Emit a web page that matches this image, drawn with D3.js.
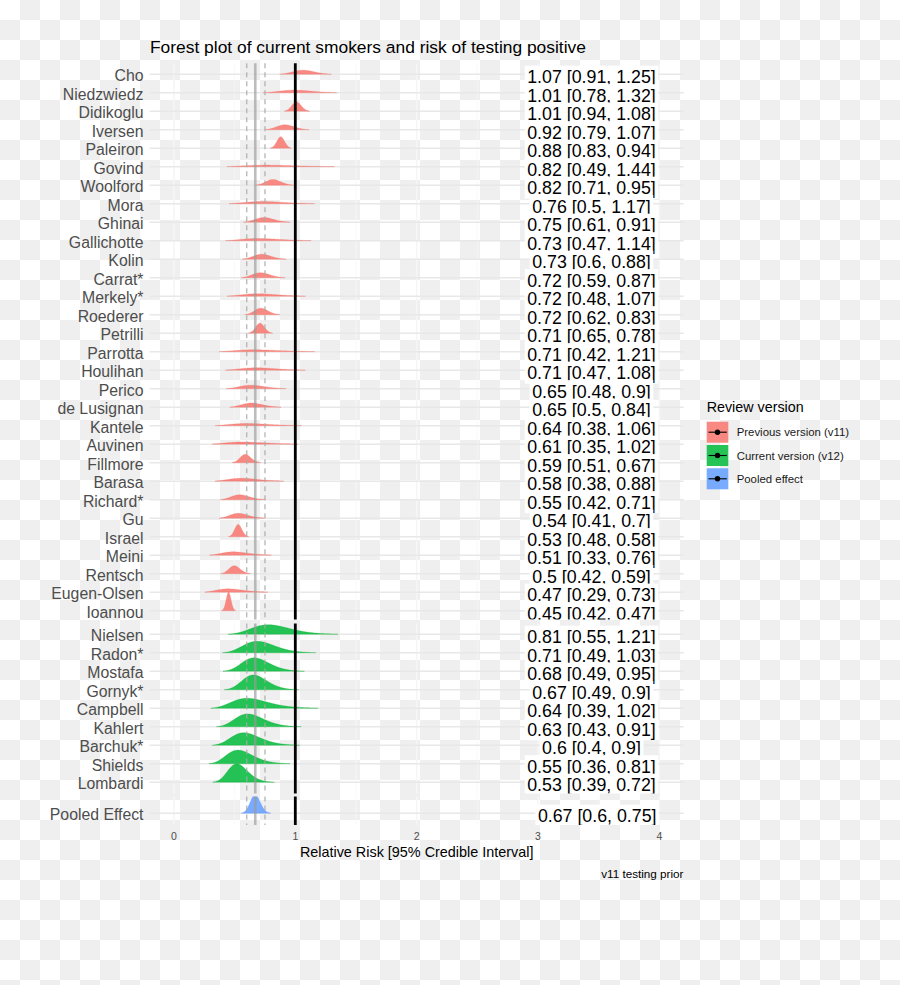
<!DOCTYPE html>
<html>
<head>
<meta charset="utf-8">
<script src="https://cdn.jsdelivr.net/npm/d3@7"></script>
<style>
  html, body { margin: 0; padding: 0; background: #fff; }
  svg { display: block; }
  text { font-family: "Liberation Sans", Arial, Helvetica, sans-serif; }
</style>
</head>
<body>
<script>
// ---------------- DATA ----------------
const v11Studies = ["Cho","Niedzwiedz","Didikoglu","Iversen","Paleiron","Govind","Woolford","Mora","Ghinai","Gallichotte","Kolin","Carrat*","Merkely*","Roederer","Petrilli","Parrotta","Houlihan","Perico","de Lusignan","Kantele","Auvinen","Fillmore","Barasa","Richard*","Gu","Israel","Meini","Rentsch","Eugen-Olsen","Ioannou"];
const v11Median = [1.07,1.01,1.01,0.92,0.88,0.82,0.82,0.76,0.75,0.73,0.73,0.72,0.72,0.72,0.71,0.71,0.71,0.65,0.65,0.64,0.61,0.59,0.58,0.55,0.54,0.53,0.51,0.5,0.47,0.45];
const v11Lower  = [0.91,0.78,0.94,0.79,0.83,0.49,0.71,0.5,0.61,0.47,0.6,0.59,0.48,0.62,0.65,0.42,0.47,0.48,0.5,0.38,0.35,0.51,0.38,0.42,0.41,0.48,0.33,0.42,0.29,0.42];
const v11Upper  = [1.25,1.32,1.08,1.07,0.94,1.44,0.95,1.17,0.91,1.14,0.88,0.87,1.07,0.83,0.78,1.21,1.08,0.9,0.84,1.06,1.02,0.67,0.88,0.71,0.7,0.58,0.76,0.59,0.73,0.47];

const v12Studies = ["Nielsen","Radon*","Mostafa","Gornyk*","Campbell","Kahlert","Barchuk*","Shields","Lombardi"];
const v12Median = [0.81,0.71,0.68,0.67,0.64,0.63,0.6,0.55,0.53];
const v12Lower  = [0.55,0.49,0.49,0.49,0.39,0.43,0.4,0.36,0.39];
const v12Upper  = [1.21,1.03,0.95,0.9,1.02,0.91,0.9,0.81,0.72];

const pooledStudies = ["Pooled Effect"];
const pooledMedian = [0.67];
const pooledLower  = [0.6];
const pooledUpper  = [0.75];

const xTicks = [0,1,2,3,4];
const xMinorTicks = [0.5,1.5,2.5,3.5];
const legendLabels = ["Previous version (v11)","Current version (v12)","Pooled effect"];
const groupColors = ["#F8766D","#00BA38","#619CFF"];

const titleText = "Forest plot of current smokers and risk of testing positive";
const xAxisTitle = "Relative Risk [95% Credible Interval]";
const captionText = "v11 testing prior";
const legendTitle = "Review version";

// ---------------- LAYOUT ----------------
const W = 900, H = 985;
const svg = d3.select("body").append("svg").attr("width", W).attr("height", H);
const defs = svg.append("defs");

// checkerboard background (transparent PNG look)
const pat = defs.append("pattern").attr("id","checker").attr("patternUnits","userSpaceOnUse")
  .attr("width",40).attr("height",40);
pat.append("rect").attr("width",40).attr("height",40).attr("fill","#ffffff");
pat.append("rect").attr("x",20).attr("y",0).attr("width",20).attr("height",20).attr("fill","#efefef");
pat.append("rect").attr("x",0).attr("y",20).attr("width",20).attr("height",20).attr("fill","#efefef");
svg.append("rect").attr("width",W).attr("height",H).attr("fill","url(#checker)");

const x = d3.scaleLinear().domain([-0.2, 4.2]).range([149.7, 683.6]);

const panels = [
  {key:"v11", studies:v11Studies, med:v11Median, lo:v11Lower, hi:v11Upper, color:groupColors[0],
   top:63.3, bottom:619.5, yr:[74.3, 610.7], labelX:591.5},
  {key:"v12", studies:v12Studies, med:v12Median, lo:v12Lower, hi:v12Upper, color:groupColors[1],
   top:623.5, bottom:793.5, yr:[634.3, 782.3], labelX:591.5},
  {key:"pooled", studies:pooledStudies, med:pooledMedian, lo:pooledLower, hi:pooledUpper, color:groupColors[2],
   top:796.5, bottom:825, yr:[813.3, 813.3], labelX:597.2}
];

const ridgeMaxH = 18.5;
const bw = 0.015;
const gridX = d3.range(0.02, 2.2, 0.002);

function lognormPdf(v, mu, s) {
  if (v <= 0) return 0;
  const z = (Math.log(v) - mu) / s;
  return Math.exp(-0.5 * z * z) / (v * s * Math.sqrt(2 * Math.PI));
}
function densityFor(m, lo, hi) {
  const mu = Math.log(m);
  const s = (Math.log(hi) - Math.log(lo)) / 3.92;
  const raw = gridX.map(v => lognormPdf(v, mu, s));
  const step = 0.002;
  const k = Math.ceil(4 * bw / step);
  const kern = d3.range(-k, k + 1).map(i => Math.exp(-0.5 * Math.pow(i * step / bw, 2)));
  const ks = d3.sum(kern);
  return raw.map((_, i) => {
    let acc = 0;
    for (let j = -k; j <= k; j++) {
      const idx = i + j;
      if (idx >= 0 && idx < raw.length) acc += raw[idx] * kern[j + k];
    }
    return acc / ks;
  });
}

panels.forEach((p, pi) => {
  p.y = d3.scalePoint().domain(p.studies).range(p.yr);
  if (p.studies.length === 1) p.y = () => p.yr[0];
  p.dens = p.studies.map((s, i) => densityFor(p.med[i], p.lo[i], p.hi[i]));
  p.maxD = d3.max(p.dens, d => d3.max(d));
  defs.append("clipPath").attr("id", "clip" + pi).append("rect")
    .attr("x", x.range()[0]).attr("y", p.top)
    .attr("width", x.range()[1] - x.range()[0]).attr("height", p.bottom - p.top);
});

const plotG = svg.append("g");

// grid lines
panels.forEach(p => {
  const g = plotG.append("g");
  g.selectAll("line.minor").data(xMinorTicks).join("line")
    .attr("x1", d => x(d)).attr("x2", d => x(d)).attr("y1", p.top).attr("y2", p.bottom)
    .attr("stroke", "#f6f6f6").attr("stroke-width", 0.8);
  g.selectAll("line.major").data(xTicks).join("line")
    .attr("x1", d => x(d)).attr("x2", d => x(d)).attr("y1", p.top).attr("y2", p.bottom)
    .attr("stroke", "#f6f6f6").attr("stroke-width", 1.6);
  g.selectAll("line.h").data(p.studies).join("line")
    .attr("x1", x.range()[0]).attr("x2", x.range()[1])
    .attr("y1", d => p.y(d)).attr("y2", d => p.y(d))
    .attr("stroke", "#e8e8e8").attr("stroke-width", 1.6);
});

// ridges
panels.forEach((p, pi) => {
  const g = plotG.append("g").attr("clip-path", `url(#clip${pi})`);
  p.studies.forEach((s, i) => {
    const d = p.dens[i];
    const pts = [];
    gridX.forEach((v, j) => { if (d[j] >= p.maxD * 0.012) pts.push([v, d[j]]); });
    const base = p.y(s);
    const hScale = v => base - v / p.maxD * ridgeMaxH;
    const area = d3.area().x(q => x(q[0])).y0(base).y1(q => hScale(q[1])).curve(d3.curveLinear);
    g.append("path").attr("d", area(pts)).attr("fill", p.color).attr("fill-opacity", 0.85)
      .attr("stroke", p.color).attr("stroke-opacity", 0.6).attr("stroke-width", 0.4);
  });
});

// vertical reference lines
panels.forEach(p => {
  plotG.append("line").attr("x1", x(pooledMedian[0])).attr("x2", x(pooledMedian[0]))
    .attr("y1", p.top).attr("y2", p.bottom).attr("stroke", "#9a9a9a").attr("stroke-opacity", 0.65)
    .attr("stroke-width", 2.6);
  [pooledLower[0], pooledUpper[0]].forEach(v => {
    plotG.append("line").attr("x1", x(v)).attr("x2", x(v))
      .attr("y1", p.top).attr("y2", p.bottom).attr("stroke", "#a8a8a8")
      .attr("stroke-width", 1.1).attr("stroke-dasharray", "5,4");
  });
  plotG.append("line").attr("x1", x(1)).attr("x2", x(1))
    .attr("y1", p.top).attr("y2", p.bottom).attr("stroke", "#000").attr("stroke-width", 2.8);
});

// value labels with white boxes
panels.forEach((p, pi) => {
  const g = plotG.append("g").attr("clip-path", `url(#clip${pi})`);
  p.studies.forEach((s, i) => {
    const label = `${p.med[i]} [${p.lo[i]}, ${p.hi[i]}]`;
    const cy = p.y(s) + 2.4;
    const rect = g.append("rect");
    const t = g.append("text").attr("x", p.labelX).attr("y", cy + 6.4)
      .attr("text-anchor", "middle").attr("font-size", 17.8).attr("fill", "#000").text(label);
    const w = t.node().getComputedTextLength();
    rect.attr("x", p.labelX - w / 2 - 2.5).attr("width", w + 5)
      .attr("y", cy - 11).attr("height", 22).attr("fill", "#fff");
  });
});

// y-axis labels
panels.forEach(p => {
  svg.append("g").selectAll("text").data(p.studies).join("text")
    .attr("x", 143.5).attr("y", d => p.y(d) + 7)
    .attr("text-anchor", "end").attr("font-size", 15.8).attr("fill", "#4d4d4d")
    .text(d => d);
});

// x-axis tick labels
svg.append("g").selectAll("text").data(xTicks).join("text")
  .attr("x", d => x(d)).attr("y", 840).attr("text-anchor", "middle")
  .attr("font-size", 10.5).attr("fill", "#4d4d4d").text(d => d);

// axis title
svg.append("text").attr("x", (x.range()[0] + x.range()[1]) / 2).attr("y", 857)
  .attr("text-anchor", "middle").attr("font-size", 14.4).attr("fill", "#000").text(xAxisTitle);

// title
svg.append("text").attr("x", 150).attr("y", 53).attr("font-size", 17.4).attr("fill", "#000").text(titleText);

// caption
svg.append("text").attr("x", 683.5).attr("y", 877.5).attr("text-anchor", "end")
  .attr("font-size", 11.7).attr("fill", "#000").text(captionText);

// legend
const lg = svg.append("g");
lg.append("text").attr("x", 706.7).attr("y", 411.7).attr("font-size", 14.3).attr("fill", "#000").text(legendTitle);
legendLabels.forEach((lab, i) => {
  const y0 = 421.7 + i * 23.3;
  lg.append("rect").attr("x", 706.7).attr("y", y0).attr("width", 21.6).attr("height", 21)
    .attr("fill", groupColors[i]).attr("fill-opacity", 0.85);
  lg.append("line").attr("x1", 708.5).attr("x2", 726.8).attr("y1", y0 + 10.5).attr("y2", y0 + 10.5)
    .attr("stroke", "#000").attr("stroke-width", 1.1);
  lg.append("circle").attr("cx", 717.5).attr("cy", y0 + 10.5).attr("r", 2.7).attr("fill", "#000");
  lg.append("text").attr("x", 736.7).attr("y", y0 + 10.5 + 4.1).attr("font-size", 11.4)
    .attr("fill", "#1a1a1a").text(lab);
});
</script>
</body>
</html>
